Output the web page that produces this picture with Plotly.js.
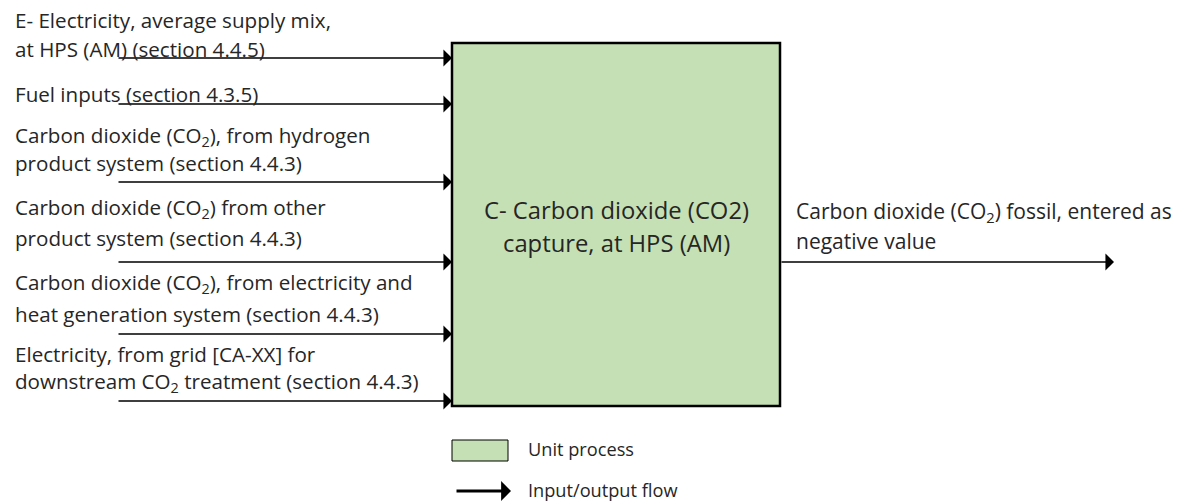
<!DOCTYPE html>
<html>
<head>
<meta charset="utf-8">
<script src="https://cdn.plot.ly/plotly-3.0.1.min.js"></script>
<style>html,body{margin:0;padding:0;background:#fff;}#chart{width:1177px;height:502px;}</style>
</head>
<body>
<div id="chart"></div>
<script>
// ---- content (text only) ----
const inputFlowLabels = [
  ["E- Electricity, average supply mix,", "at HPS (AM) (section 4.4.5)"],
  ["Fuel inputs (section 4.3.5)"],
  ["Carbon dioxide (CO<sub>2</sub>), from hydrogen", "product system (section 4.4.3)"],
  ["Carbon dioxide (CO<sub>2</sub>) from other", "product system (section 4.4.3)"],
  ["Carbon dioxide (CO<sub>2</sub>), from electricity and", "heat generation system (section 4.4.3)"],
  ["Electricity, from grid [CA-XX] for", "downstream CO<sub>2</sub> treatment (section 4.4.3)"]
];
const processLabel = ["C- Carbon dioxide (CO2)", "capture, at HPS (AM)"];
const outputFlowLabel = ["Carbon dioxide (CO<sub>2</sub>) fossil, entered as", "negative value"];
const legendLabels = ["Unit process", "Input/output flow"];

// ---- layout geometry (pixel coordinates) ----
const geo = {
  box: {x0: 452, x1: 780, y0: 43, y1: 406},
  inArrowX0: 117,
  inArrowY: [58, 104, 182, 262, 334, 401],
  inTextX: 13,
  inTextY: [[20, 49], [94], [136, 163], [208, 238], [283, 314], [354, 382]],
  processTextX: 616,
  processTextY: [210, 243],
  outArrowY: 262,
  outArrowX1: 1114,
  outTextX: 794,
  outTextY: [212, 241],
  legendRect: {x0: 452, x1: 508, y0: 440, y1: 461},
  legendArrow: {x0: 455, x1: 511, y: 491},
  legendTextX: 526,
  legendTextY: [449, 490]
};

const FONT = {family: "Open Sans, sans-serif", size: 20.6, color: "#262626"};
const GREEN = "#c5e0b4";

const shapes = [];
const annotations = [];

// process box
shapes.push({type: "rect", xref: "x", yref: "y", x0: geo.box.x0, x1: geo.box.x1, y0: geo.box.y0, y1: geo.box.y1,
  fillcolor: GREEN, line: {color: "#000", width: 2.5}, layer: "below"});

// input arrows and labels
inputFlowLabels.forEach((lines, i) => {
  annotations.push({x: geo.box.x0, y: geo.inArrowY[i], ax: geo.inArrowX0, ay: geo.inArrowY[i],
    xref: "x", yref: "y", axref: "x", ayref: "y", text: "", showarrow: true,
    arrowhead: 1, arrowsize: 1.9, arrowwidth: 1.5, arrowcolor: "#000", standoff: 0});
  lines.forEach((t, j) => {
    annotations.push({x: geo.inTextX, y: geo.inTextY[i][j], xref: "x", yref: "y", text: t,
      showarrow: false, xanchor: "left", yanchor: "middle", font: FONT});
  });
});

// process label
processLabel.forEach((t, j) => {
  annotations.push({x: geo.processTextX, y: geo.processTextY[j], xref: "x", yref: "y", text: t,
    showarrow: false, xanchor: "center", yanchor: "middle", font: Object.assign({}, FONT, {size: 23.8})});
});

// output arrow and label
annotations.push({x: geo.outArrowX1, y: geo.outArrowY, ax: geo.box.x1, ay: geo.outArrowY,
  xref: "x", yref: "y", axref: "x", ayref: "y", text: "", showarrow: true,
  arrowhead: 1, arrowsize: 1.9, arrowwidth: 1.5, arrowcolor: "#000", standoff: 0});
outputFlowLabel.forEach((t, j) => {
  annotations.push({x: geo.outTextX, y: geo.outTextY[j], xref: "x", yref: "y", text: t,
    showarrow: false, xanchor: "left", yanchor: "middle", font: Object.assign({}, FONT, {size: 21})});
});

// legend
shapes.push({type: "rect", xref: "x", yref: "y", x0: geo.legendRect.x0, x1: geo.legendRect.x1,
  y0: geo.legendRect.y0, y1: geo.legendRect.y1, fillcolor: GREEN, line: {color: "#000", width: 1}});
annotations.push({x: geo.legendArrow.x1, y: geo.legendArrow.y, ax: geo.legendArrow.x0, ay: geo.legendArrow.y,
  xref: "x", yref: "y", axref: "x", ayref: "y", text: "", showarrow: true,
  arrowhead: 1, arrowsize: 1.1, arrowwidth: 3, arrowcolor: "#000", standoff: 0});
legendLabels.forEach((t, j) => {
  annotations.push({x: geo.legendTextX, y: geo.legendTextY[j], xref: "x", yref: "y", text: t,
    showarrow: false, xanchor: "left", yanchor: "middle", font: Object.assign({}, FONT, {size: 18.2})});
});

const layout = {
  width: 1177, height: 502,
  margin: {l: 0, r: 0, t: 0, b: 0},
  paper_bgcolor: "#fff", plot_bgcolor: "#fff",
  xaxis: {range: [0, 1177], visible: false, fixedrange: true},
  yaxis: {range: [502, 0], visible: false, fixedrange: true},
  showlegend: false,
  shapes: shapes,
  annotations: annotations
};

Plotly.newPlot("chart", [], layout, {displayModeBar: false, staticPlot: true});
</script>
</body>
</html>
